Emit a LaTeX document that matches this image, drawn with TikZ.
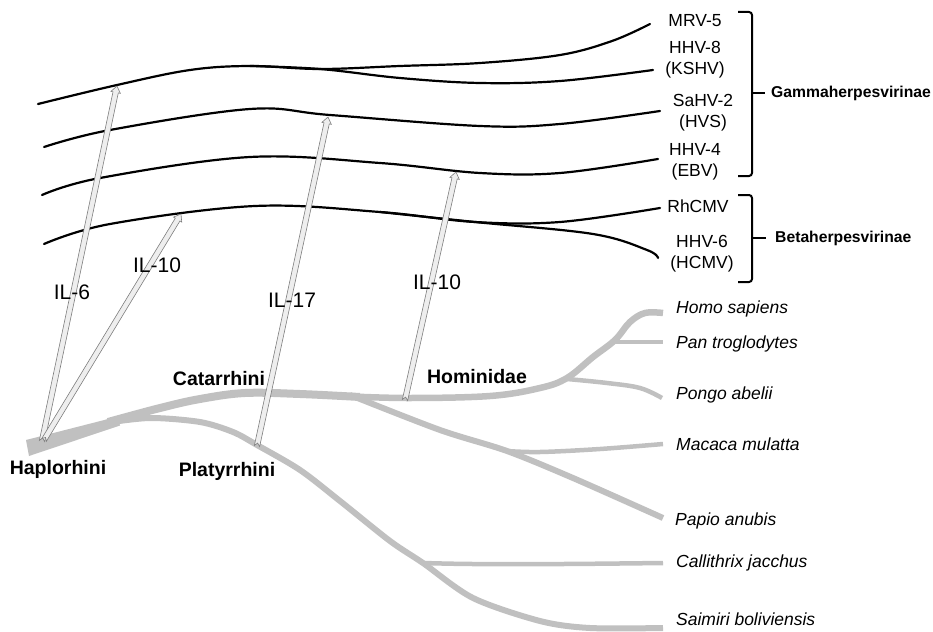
\documentclass[tikz,border=0pt]{standalone}
\usepackage{fontspec}
\setmainfont{Liberation Sans}
\usetikzlibrary{calc}
\definecolor{treegray}{RGB}{192,192,192}
\definecolor{arrowfill}{RGB}{238,238,238}
\definecolor{arrowline}{RGB}{125,125,125}
\newcommand{\hollowarrow}[2]{%
  \coordinate (hT) at ($(#2)!6.5pt!(#1)$);
  \coordinate (hN) at ($(#1)!3pt!(#2)$);
  \filldraw[fill=arrowfill, draw=arrowline, line width=0.6pt, line join=miter]
    ($(#1)!2.7pt!-90:(#2)$) -- ($(hT)!2.7pt!90:(#1)$) -- ($(hT)!4.8pt!90:(#1)$) -- (#2)
    -- ($(hT)!4.8pt!-90:(#1)$) -- ($(hT)!2.7pt!-90:(#1)$) -- ($(#1)!2.7pt!90:(#2)$) -- (hN) -- cycle;
}
\begin{document}
\begin{tikzpicture}[x=1pt,y=-1pt,
  vline/.style={line width=2.2pt, black, line cap=round},
  tbranch/.style={treegray, line cap=butt, line join=round},
  virlab/.style={font=\fontsize{17.5}{21}\selectfont, align=center, inner sep=0pt},
  grouplab/.style={font=\fontsize{15.7}{19}\selectfont\bfseries, inner sep=0pt, anchor=west},
  taxlab/.style={font=\fontsize{19.5}{23}\selectfont\bfseries, inner sep=0pt},
  illab/.style={font=\fontsize{21}{25}\selectfont, inner sep=0pt},
  species/.style={font=\fontsize{17.5}{21}\selectfont\itshape, inner sep=0pt, anchor=west},
  bracepath/.style={line width=2pt, black, rounded corners=3pt}]
\useasboundingbox (0,0) rectangle (933,631);

% ---------------- virus lineages ----------------
\draw[vline] plot[smooth, tension=0.6] coordinates {(38,104) (117,85) (190,70) (250,66) (320,69) (400,66) (480,63) (560,55) (612,41) (650,24)};
\draw[vline] plot[smooth, tension=0.6] coordinates {(250,66) (320,69) (400,78) (480,83) (560,81) (653,70)};
\draw[vline] plot[smooth, tension=0.6] coordinates {(44,147) (110,130) (250,109) (330,115) (480,126) (560,124) (660,111)};
\draw[vline] plot[smooth, tension=0.6] coordinates {(42,195) (100,178) (250,157) (380,163) (480,173) (560,173) (658,159)};
\draw[vline] plot[smooth, tension=0.6] coordinates {(44,244) (110,224) (255,206) (380,212) (475,222) (560,222) (660,208)};
\draw[vline] plot[smooth, tension=0.6] coordinates {(380,212) (475,222) (593,234) (647,250) (658,258)};

% ---------------- primate tree ----------------
\draw[tbranch, line width=6pt] plot[smooth, tension=0.5] coordinates {(105,423) (150,418) (200,422) (233,432) (257,445) (300,470) (340,501) (390,541) (423,563) (473,598) (540,621) (590,628) (663,628)};
\fill[treegray] (26,440) -- (29,456) -- (120,425.5) -- (118,416.5) -- cycle;
\draw[tbranch, line width=8pt] plot[smooth, tension=0.6] coordinates {(108,422) (160,408) (200,399) (245,393) (300,394) (360,397)};
\draw[tbranch, line width=6.5pt] plot[smooth, tension=0.6] coordinates {(340,396) (407,398) (490,396) (540,388) (567,378) (593,357) (615,340) (630,322) (645,313) (663,313)};
\draw[tbranch, line width=4.5pt] (615,342) -- (663,342);
\draw[tbranch, line width=4.5pt] plot[smooth, tension=0.6] coordinates {(567,379) (607,383) (640,388) (662,398)};
\draw[tbranch, line width=6pt] plot[smooth, tension=0.5] coordinates {(350,395) (440,430) (507,451) (573,478) (663,518)};
\draw[tbranch, line width=4.5pt] plot[smooth, tension=0.6] coordinates {(507,451) (540,452) (600,449) (663,444)};
\draw[tbranch, line width=4.5pt] plot[smooth, tension=0.6] coordinates {(423,563) (473,564) (563,564) (663,563)};

% ---------------- arrows ----------------
\coordinate (il6a) at (42,441);   \coordinate (il6b) at (117,86);
\coordinate (il10a) at (44,440);  \coordinate (il10b) at (181,214);
\coordinate (il17a) at (257,446); \coordinate (il17b) at (328,117);
\coordinate (il10c) at (405,400); \coordinate (il10d) at (456,172);
\hollowarrow{il6a}{il6b}
\hollowarrow{il10a}{il10b}
\hollowarrow{il17a}{il17b}
\hollowarrow{il10c}{il10d}

\node[illab] (lil6) at (72,292) {IL-6};
\node[illab] (lil10a) at (157,265) {IL-10};
\node[illab] (lil17) at (292,300) {IL-17};
\node[illab] (lil10b) at (437,282) {IL-10};

% ---------------- virus labels ----------------
\node[virlab] (mrv) at (695,21) {MRV-5};
\node[virlab] (hhv8) at (695,60) {HHV-8\\(KSHV)};
\node[virlab] (sahv) at (703,113) {SaHV-2\\(HVS)};
\node[virlab] (hhv4) at (695,162) {HHV-4\\(EBV)};
\node[virlab] (rhcmv) at (698,206) {RhCMV};
\node[virlab] (hhv6) at (702,254) {HHV-6\\(HCMV)};

\draw[bracepath] (738,12) -- (752,12) -- (752,176) -- (738,176);
\draw[line width=2pt] (752,93) -- (765,93);
\draw[bracepath] (738,195) -- (752,195) -- (752,282) -- (738,282);
\draw[line width=2pt] (752,238) -- (766,238);
\node[grouplab] (gamma) at (771,93) {Gammaherpesvirinae};
\node[grouplab] (beta) at (775,238) {Betaherpesvirinae};

% ---------------- taxon labels ----------------
\node[taxlab] (hap) at (58,469) {Haplorhini};
\node[taxlab] (cat) at (219,379) {Catarrhini};
\node[taxlab] (pla) at (227,471) {Platyrrhini};
\node[taxlab] (hom) at (477,377) {Hominidae};

\node[species] (homo) at (676,309) {Homo sapiens};
\node[species] (pan) at (676,344) {Pan troglodytes};
\node[species] (pongo) at (676,395) {Pongo abelii};
\node[species] (macaca) at (676,444) {Macaca mulatta};
\node[species] (papio) at (675,521) {Papio anubis};
\node[species] (calli) at (676,563) {Callithrix jacchus};
\node[species] (saimiri) at (676,619) {Saimiri boliviensis};
\end{tikzpicture}
\end{document}
